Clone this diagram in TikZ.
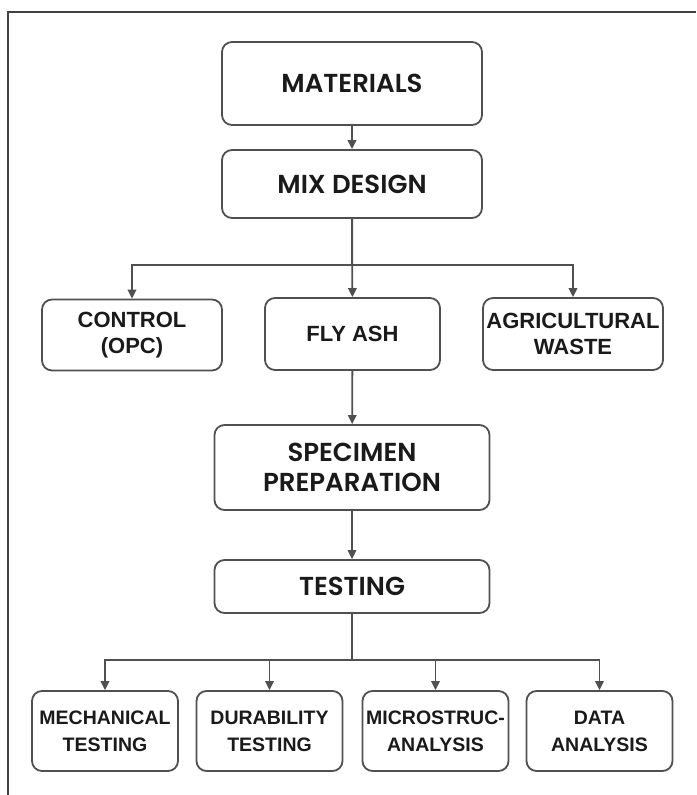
\documentclass[tikz,border=0pt]{standalone}
\usepackage{fontspec}
\setmainfont{Liberation Sans}
\newfontfamily\headfont{Poppins}[BoldFont={Poppins SemiBold}]
\usepackage{tikz}
\usetikzlibrary{arrows.meta}
\definecolor{edgegray}{HTML}{505050}
\definecolor{inkgray}{HTML}{1A1A1A}
\tikzset{
  % --- boxes -----------------------------------------------------------------
  stage/.style={rectangle,rounded corners=10pt,draw=edgegray,line width=1.8pt,
                fill=white,text=inkgray,align=center,inner sep=2pt},
  headbox/.style={stage,font=\headfont\bfseries\fontsize{26}{30}\selectfont},
  mixbox/.style={stage,font=\bfseries\fontsize{22}{26}\selectfont},
  outbox/.style={stage,minimum width=146pt,minimum height=80pt,
                 font=\bfseries\fontsize{19.5}{27}\selectfont},
  % --- connectors ------------------------------------------------------------
  link/.style={edgegray,line width=1.8pt},
  arr/.style={link,-{Triangle[length=9pt,width=8.5pt]}},
  frame/.style={edgegray!80!black,line width=2.4pt},
}

\begin{document}
\begin{tikzpicture}[x=1pt, y=-1pt]
  \useasboundingbox (0,0) rectangle (696,795);
  \draw[frame] (8,795) -- (8,12) -- (696,12);

  \node[headbox,minimum width=260pt,minimum height=83pt] (mat)  at (352,83.5) {MATERIALS};
  \node[headbox,minimum width=260pt,minimum height=68pt] (mix)  at (352,184)  {MIX DESIGN};

  \node[mixbox,minimum width=180pt,minimum height=71pt] (ctrl) at (132,335)   {CONTROL\\(OPC)};
  \node[mixbox,minimum width=175pt,minimum height=72pt] (fly)  at (352.5,334) {FLY ASH};
  \node[mixbox,minimum width=180pt,minimum height=72pt] (agri) at (573,334)   {AGRICULTURAL\\WASTE};

  \node[headbox,minimum width=275pt,minimum height=85pt] (spec) at (352,467.5) {SPECIMEN\\PREPARATION};
  \node[headbox,minimum width=275pt,minimum height=53pt] (test) at (352,586.5) {TESTING};

  \node[outbox] (mech)  at (105,731)   {MECHANICAL\\TESTING};
  \node[outbox] (dura)  at (269.5,731) {DURABILITY\\TESTING};
  \node[outbox] (micro) at (435.5,731) {MICROSTRUC-\\ANALYSIS};
  \node[outbox] (data)  at (599.5,731) {DATA\\ANALYSIS};

  \coordinate (split1) at (352,265);
  \coordinate (split2) at (352,660);

  \draw[arr]  (mat) -- (mix);
  \draw[link] (mix) -- (split1);
  \draw[arr]  (split1) -| (ctrl);
  \draw[arr]  (mix) -- (fly);
  \draw[arr]  (split1) -| (agri);
  \draw[arr]  (fly) -- (spec);
  \draw[arr]  (spec) -- (test);
  \draw[link] (test) -- (split2);
  \foreach \t in {mech,dura,micro,data}
    \draw[arr] (split2) -| (\t);
\end{tikzpicture}
\end{document}
